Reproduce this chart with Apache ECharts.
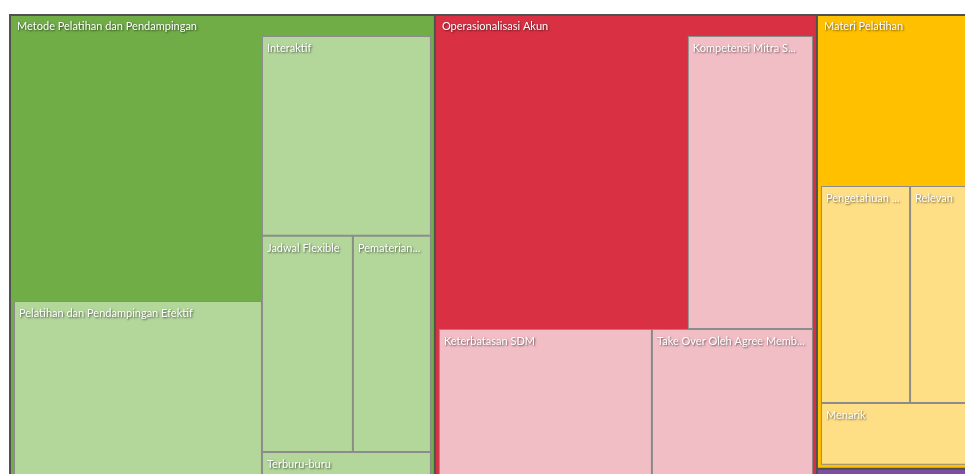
<!DOCTYPE html>
<html>
<head>
<meta charset="utf-8">
<title>Treemap</title>
<script src="https://cdn.jsdelivr.net/npm/echarts@6/dist/echarts.min.js"></script>
<style>
  html, body { margin: 0; padding: 0; background: #ffffff; }
  #chart { width: 965px; height: 474px; }
</style>
</head>
<body>
<div id="chart"></div>
<script>
// top level categories (the last one only peeks in under Materi Pelatihan)
const groupNames = ['Metode Pelatihan dan Pendampingan', 'Operasionalisasi Akun', 'Materi Pelatihan', '']

const metodeNames = ['', 'Pelatihan dan Pendampingan Efektif', 'Interaktif', 'Jadwal Flexible', 'Pematerian...', 'Terburu-buru']
const metodeValues = [70.5, 56.9, 36.2, 21.1, 18.1, 11.4]

const akunNames = ['', 'Kompetensi Mitra S...', 'Keterbatasan SDM', 'Take Over Oleh Agree Memb...']
const akunValues = [78.4, 39.4, 42.6, 32.2]

const materiNames = ['', 'Pengetahuan ...', 'Relevan', 'Menarik']
const materiValues = [26.2, 21.5, 16.4, 10.8]

const lainnyaNames = ['']
const lainnyaValues = [8.3]

const groupColors = ['#70ad47', '#d93143', '#ffc000', '#7e4ea1']
const leafColors = ['#b3d69b', '#f2bec6', '#ffdf85', '#cdb0df']
const leafBorder = '#8c8c8c'

// the original tool lays "Metode" out as two columns, nest them so squarify does the same
const layouts = [
  [[0, 1], [2, [3, 4], 5]],
  [0, 1, 2, 3],
  [0, 1, 2, 3],
  [0]
]
const groupData = [
  [metodeNames, metodeValues],
  [akunNames, akunValues],
  [materiNames, materiValues],
  [lainnyaNames, lainnyaValues]
]

function leaf(name, value, g) {
  const blank = name === ''
  return {
    name: name,
    value: value,
    itemStyle: {
      color: blank ? groupColors[g] : leafColors[g],
      borderColor: blank ? groupColors[g] : leafBorder
    }
  }
}

function wrap(children, g) {
  return {
    name: '',
    children: children,
    itemStyle: { borderWidth: 0, gapWidth: 0, borderColor: groupColors[g] },
    upperLabel: { show: false }
  }
}

function build(layout, names, values, g) {
  return layout.map(function (entry) {
    if (Array.isArray(entry)) {
      return wrap(build(entry, names, values, g), g)
    }
    return leaf(names[entry], values[entry], g)
  })
}

const treeData = groupNames.map(function (name, g) {
  return {
    name: name,
    itemStyle: { color: groupColors[g], borderColor: groupColors[g] },
    children: build(layouts[g], groupData[g][0], groupData[g][1], g)
  }
})

const textStyle = {
  color: '#ffffff',
  fontFamily: 'Lato',
  fontSize: 11,
  textShadowColor: 'rgba(0, 0, 0, 0.6)',
  textShadowBlur: 2,
  textShadowOffsetX: 1,
  textShadowOffsetY: 1
}

const chart = echarts.init(document.getElementById('chart'))
chart.setOption({
  animation: false,
  series: [
    {
      type: 'treemap',
      left: 9,
      top: 14,
      width: 974,
      height: 506,
      roam: false,
      nodeClick: false,
      sort: false,
      breadcrumb: { show: false },
      itemStyle: { borderWidth: 1, borderColor: leafBorder, gapWidth: 0 },
      label: Object.assign({
        show: true,
        position: 'insideTopLeft',
        distance: 0,
        padding: [5, 4, 0, 4],
        lineHeight: 13,
        overflow: 'truncate'
      }, textStyle),
      upperLabel: { show: false },
      levels: [
        {
          itemStyle: { borderColor: '#505050', borderWidth: 2, gapWidth: 2 }
        },
        {
          itemStyle: { borderWidth: 3, gapWidth: 0 },
          upperLabel: Object.assign({
            show: true,
            height: 20,
            position: 'insideLeft',
            distance: 3
          }, textStyle)
        }
      ],
      data: treeData
    }
  ]
})
</script>
</body>
</html>
